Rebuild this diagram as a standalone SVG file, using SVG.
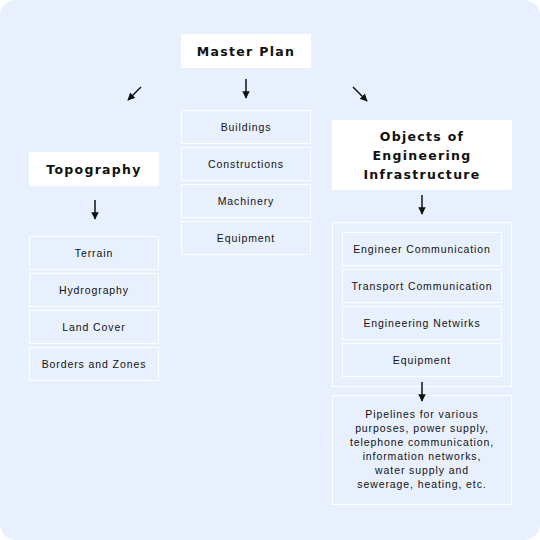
<svg xmlns="http://www.w3.org/2000/svg" width="540" height="540" viewBox="0 0 540 540">
<defs>
<marker id="ah" viewBox="0 0 10 10" refX="9" refY="5" markerWidth="5" markerHeight="5" orient="auto" markerUnits="strokeWidth">
<path d="M0,0 L10,5 L0,10 z" fill="#111"/>
</marker>
<style>
.bg{fill:#e8f0fe}
.title{fill:#ffffff}
.item{fill:#e8f0fe;stroke:#ffffff;stroke-width:1}
.t{font-family:"DejaVu Sans",Verdana,sans-serif;font-size:12.5px;font-weight:bold;letter-spacing:1.3px;fill:#111;text-anchor:middle}
.s{font-family:"Liberation Sans",Arial,sans-serif;font-size:10.5px;letter-spacing:0.9px;fill:#111;text-anchor:middle}
.c{stroke:#111;stroke-width:1.5;fill:none;marker-end:url(#ah)}
</style>
</defs>
<rect x="0" y="0" width="540" height="540" rx="16" class="bg"/>

<g id="master-plan">
<rect x="181" y="34" width="130" height="34" class="title"/>
<text x="246" y="56" class="t">Master Plan</text>
</g>

<g id="buildings"><rect x="181.5" y="110.5" width="129" height="33" class="item"/><text x="246" y="131" class="s">Buildings</text></g>
<g id="constructions"><rect x="181.5" y="147.5" width="129" height="33" class="item"/><text x="246" y="168" class="s">Constructions</text></g>
<g id="machinery"><rect x="181.5" y="184.5" width="129" height="33" class="item"/><text x="246" y="205" class="s">Machinery</text></g>
<g id="equipment-mid"><rect x="181.5" y="221.5" width="129" height="33" class="item"/><text x="246" y="242" class="s">Equipment</text></g>

<g id="topography">
<rect x="29" y="152" width="130" height="34" class="title"/>
<text x="94" y="173.5" class="t">Topography</text>
</g>
<g id="terrain"><rect x="29.5" y="236.5" width="129" height="33" class="item"/><text x="94" y="257" class="s">Terrain</text></g>
<g id="hydrography"><rect x="29.5" y="273.5" width="129" height="33" class="item"/><text x="94" y="294" class="s">Hydrography</text></g>
<g id="land-cover"><rect x="29.5" y="310.5" width="129" height="33" class="item"/><text x="94" y="331" class="s">Land Cover</text></g>
<g id="borders"><rect x="29.5" y="347.5" width="129" height="33" class="item"/><text x="94" y="368" class="s">Borders and Zones</text></g>

<g id="objects">
<rect x="332" y="120" width="180" height="70" class="title"/>
<text x="422" y="140.5" class="t">Objects of</text>
<text x="422" y="159.5" class="t">Engineering</text>
<text x="422" y="178.5" class="t">Infrastructure</text>
</g>

<g id="infra-group">
<rect x="332.5" y="222.5" width="179" height="164" class="item"/>
</g>
<g id="engineer-comm"><rect x="342.5" y="232.5" width="159" height="33" class="item"/><text x="422" y="253" class="s">Engineer Communication</text></g>
<g id="transport-comm"><rect x="342.5" y="269.5" width="159" height="33" class="item"/><text x="422" y="290" class="s">Transport Communication</text></g>
<g id="eng-networks"><rect x="342.5" y="306.5" width="159" height="33" class="item"/><text x="422" y="327" class="s">Engineering Netwirks</text></g>
<g id="equipment-right"><rect x="342.5" y="343.5" width="159" height="33" class="item"/><text x="422" y="364" class="s">Equipment</text></g>

<g id="pipelines">
<rect x="332.5" y="395.5" width="179" height="109" class="item"/>
<text x="422" y="418" class="s">Pipelines for various</text>
<text x="422" y="432" class="s">purposes, power supply,</text>
<text x="422" y="446" class="s">telephone communication,</text>
<text x="422" y="460" class="s">information networks,</text>
<text x="422" y="474" class="s">water supply and</text>
<text x="422" y="488" class="s">sewerage, heating, etc.</text>
</g>

<g id="connectors">
<line class="c" x1="246" y1="79" x2="246" y2="98"/>
<line class="c" x1="141" y1="87" x2="128" y2="100"/>
<line class="c" x1="353" y1="87" x2="367" y2="101"/>
<line class="c" x1="95" y1="200" x2="95" y2="219"/>
<line class="c" x1="422" y1="195" x2="422" y2="214"/>
<line class="c" x1="422" y1="382" x2="422" y2="401"/>
</g>
</svg>
